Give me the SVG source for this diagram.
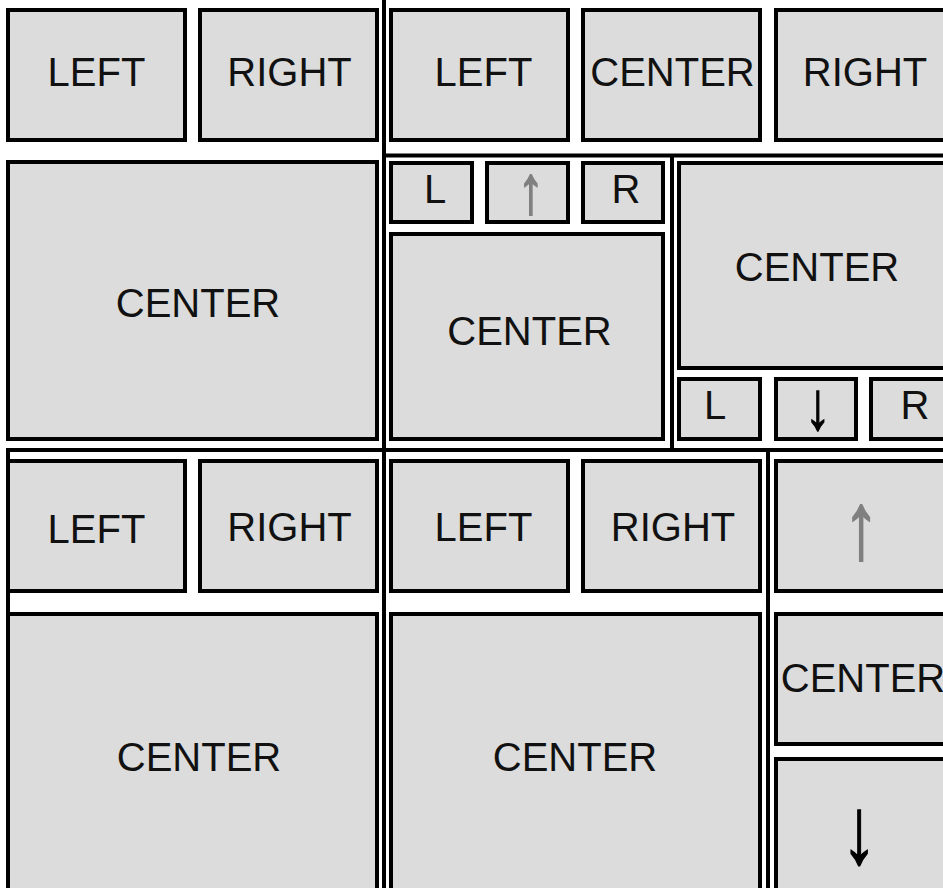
<svg xmlns="http://www.w3.org/2000/svg" width="943" height="888" viewBox="0 0 943 888">
<style>
.b{fill:#dcdcdc;stroke:#000;stroke-width:4}
.t{font-family:"Liberation Sans",Arial,sans-serif;font-size:40px;fill:#111;text-anchor:middle}
.up{font-family:"Liberation Sans",Arial,sans-serif;fill:#808080;stroke:#808080;stroke-width:1.5;text-anchor:middle}
.dn{font-family:"Liberation Sans",Arial,sans-serif;fill:#000;stroke:#000;stroke-width:1;text-anchor:middle}
.ln{stroke:#000;stroke-width:4;fill:none}
</style>
<rect width="943" height="888" fill="#fff"/>
<g id="lines">
<line class="ln" x1="384" y1="0" x2="384" y2="888"/>
<line class="ln" x1="6" y1="450" x2="943" y2="450"/>
<line class="ln" x1="8" y1="448" x2="8" y2="888"/>
<line class="ln" x1="386" y1="155.5" x2="943" y2="155.5"/>
<line class="ln" x1="672" y1="157" x2="672" y2="448"/>
<line class="ln" x1="768" y1="452" x2="768" y2="888"/>
</g>
<g id="tl-left"><rect class="b" x="8" y="10" width="177" height="130"/><text class="t" x="96.5" y="86">LEFT</text></g>
<g id="tl-right"><rect class="b" x="200" y="10" width="177" height="130"/><text class="t" x="289.5" y="86">RIGHT</text></g>
<g id="tl-center"><rect class="b" x="8" y="162" width="369" height="277"/><text class="t" x="198" y="317">CENTER</text></g>
<g id="tr-left"><rect class="b" x="391" y="10" width="177" height="130"/><text class="t" x="483.5" y="86">LEFT</text></g>
<g id="tr-center"><rect class="b" x="583" y="10" width="177" height="130"/><text class="t" x="672.5" y="86">CENTER</text></g>
<g id="tr-right"><rect class="b" x="776" y="10" width="181" height="130"/><text class="t" x="865" y="86">RIGHT</text></g>
<g id="tr-a-l"><rect class="b" x="391" y="163" width="81" height="59"/><text class="t" x="435" y="203">L</text></g>
<g id="tr-a-up"><rect class="b" x="487" y="163" width="81" height="59"/><text class="up" transform="translate(531,213) scale(1,1.3)" font-size="52">↑</text></g>
<g id="tr-a-r"><rect class="b" x="583" y="163" width="80" height="59"/><text class="t" x="626" y="203">R</text></g>
<g id="tr-a-center"><rect class="b" x="391" y="234" width="272" height="205"/><text class="t" x="529.5" y="345">CENTER</text></g>
<g id="tr-b-center"><rect class="b" x="679" y="163" width="281" height="205"/><text class="t" x="817" y="281">CENTER</text></g>
<g id="tr-b-l"><rect class="b" x="679" y="379" width="81" height="60"/><text class="t" x="715" y="419">L</text></g>
<g id="tr-b-dn"><rect class="b" x="776" y="379" width="80" height="60"/><text class="dn" transform="translate(818,429) scale(1,1.3)" font-size="52">↓</text></g>
<g id="tr-b-r"><rect class="b" x="871" y="379" width="80" height="60"/><text class="t" x="915" y="419">R</text></g>
<g id="bl-left"><rect class="b" x="8" y="461" width="177" height="130"/><text class="t" x="96.5" y="543">LEFT</text></g>
<g id="bl-right"><rect class="b" x="200" y="461" width="177" height="130"/><text class="t" x="289.5" y="541">RIGHT</text></g>
<g id="bl-center"><rect class="b" x="8" y="614" width="369" height="291"/><text class="t" x="199" y="771">CENTER</text></g>
<g id="br-left"><rect class="b" x="391" y="461" width="177" height="130"/><text class="t" x="483.5" y="541">LEFT</text></g>
<g id="br-right"><rect class="b" x="583" y="461" width="177" height="130"/><text class="t" x="673" y="541">RIGHT</text></g>
<g id="br-center"><rect class="b" x="391" y="614" width="369" height="291"/><text class="t" x="575" y="771">CENTER</text></g>
<g id="br-up"><rect class="b" x="776" y="461" width="176" height="130"/><text class="up" transform="translate(861,558) scale(1,1.35)" font-size="70">↑</text></g>
<g id="br-c"><rect class="b" x="776" y="614" width="176" height="130"/><text class="t" x="863" y="692">CENTER</text></g>
<g id="br-dn"><rect class="b" x="776" y="759" width="176" height="150"/><text class="dn" transform="translate(859,863) scale(1,1.35)" font-size="70">↓</text></g>
</svg>
